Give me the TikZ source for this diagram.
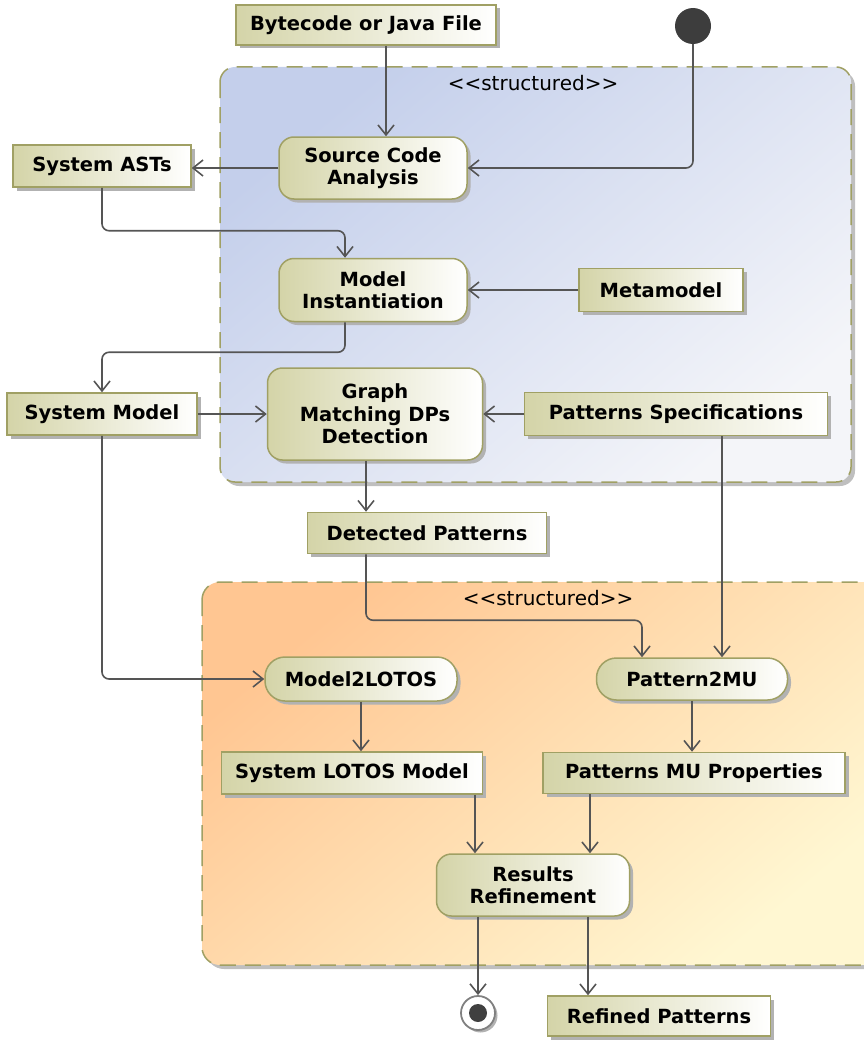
\documentclass[tikz,border=0pt]{standalone}
\usepackage{fontspec}
\setmainfont{DejaVu Sans}
\usepackage{xcolor}
\usetikzlibrary{positioning, arrows.meta, shadows}

\definecolor{nodeolive}{HTML}{D4D4A8}
\definecolor{edgeolive}{HTML}{A0A064}
\definecolor{flowgray}{HTML}{555555}
\definecolor{blueA}{HTML}{C4CFEB}
\definecolor{blueB}{HTML}{F4F5F9}
\definecolor{peachA}{HTML}{FFC692}
\definecolor{peachB}{HTML}{FFF7D2}

\begin{document}
\begin{tikzpicture}[
    x=1pt, y=-1pt,
    >={Straight Barb[length=10pt, width=16pt]},
    box/.style={draw=edgeolive, line width=1.5pt, left color=nodeolive, right color=white,
        font=\fontsize{19.5}{22.5}\selectfont\bfseries, align=center, inner sep=0pt,
        drop shadow={shadow xshift=3.5pt, shadow yshift=-3.5pt, fill=black!30, opacity=1}},
    objbox/.style={box, rectangle},
    actbox/.style={box, rounded corners=15pt},
    pillbox/.style={box, rounded corners=20pt},
    region/.style={draw=edgeolive, line width=1.5pt, dash pattern=on 16pt off 9pt,
        shading angle=40,
        drop shadow={shadow xshift=4pt, shadow yshift=-4pt, fill=black!25, opacity=1}},
    stereo/.style={font=\fontsize{20}{22}\selectfont},
    flow/.style={->, line width=1.6pt, flowgray, rounded corners=7pt},
]
\useasboundingbox (0,0) rectangle (864,1041);

% Regions
\path[region, left color=blueA, right color=blueB, shading angle=40, rounded corners=15pt]
    (220,67) rectangle (851,482);
\node[stereo] (upperlbl) at (533,83) {<{}<structured>{}>};
\path[region, left color=peachA, right color=peachB, shading angle=40, rounded corners=18pt]
    (202,582) rectangle (880,965);
\node[stereo] (lowerlbl) at (548,598) {<{}<structured>{}>};

% Start and end
\node[circle, fill=black!76, minimum size=36pt, inner sep=0pt] (init) at (693,26) {};
\node[circle, draw=black!50, line width=1.8pt, fill=white, minimum size=34pt, inner sep=0pt,
    drop shadow={shadow xshift=2.5pt, shadow yshift=-2.5pt, fill=black!30, opacity=1},
    path picture={\fill[black!75] (path picture bounding box.center) circle (9pt);}] (final) at (478,1013) {};

% Upper part
\node[objbox, minimum width=260pt, minimum height=40pt] (bytecode) at (366,25) {Bytecode or Java File};
\node[actbox, minimum width=188pt, minimum height=62pt] (sca) at (373,168) {Source Code\\Analysis};
\node[objbox, minimum width=178pt, minimum height=42pt] (asts) at (102,166) {System ASTs};
\node[actbox, minimum width=188pt, minimum height=63pt] (mi) at (373,290) {Model\\Instantiation};
\node[objbox, minimum width=164pt, minimum height=43pt] (meta) at (661,290) {Metamodel};
\node[objbox, minimum width=190pt, minimum height=42pt] (sysmodel) at (102,414) {System Model};
\node[actbox, minimum width=215pt, minimum height=92pt] (graph) at (375,414) {Graph\\Matching DPs\\Detection};
\node[objbox, minimum width=303pt, minimum height=43pt] (patspec) at (676,414) {Patterns Specifications};
\node[objbox, minimum width=239pt, minimum height=41pt] (detected) at (427,533) {Detected Patterns};

% Lower part
\node[pillbox, minimum width=192pt, minimum height=44pt] (m2l) at (361,679) {Model2LOTOS};
\node[pillbox, minimum width=191pt, minimum height=42pt] (p2mu) at (692,679) {Pattern2MU};
\node[objbox, minimum width=261pt, minimum height=42pt] (slm) at (352,773) {System LOTOS Model};
\node[objbox, minimum width=302pt, minimum height=41pt] (pmu) at (694,773) {Patterns MU Properties};
\node[actbox, minimum width=193pt, minimum height=62pt] (rr) at (533,885) {Results\\Refinement};
\node[objbox, minimum width=223pt, minimum height=40pt] (refined) at (659,1016) {Refined Patterns};

% Arrows
\draw[flow] ([xshift=20pt]bytecode.south) -- ([xshift=20pt]bytecode.south |- sca.north);
\draw[flow] (init.south) |- (sca.east);
\draw[flow] (sca.west) -- (sca.west -| asts.east);
\draw[flow] (asts.south) -- ++(0,43) -| ([xshift=-28pt]mi.north);
\draw[flow] (meta) -- (mi);
\draw[flow] ([xshift=-28pt]mi.south) -- ++(0,30) -| (sysmodel.north);
\draw[flow] (sysmodel) -- (graph);
\draw[flow] (patspec) -- (graph);
\draw[flow] ([xshift=-9pt]graph.south) -- ([xshift=-9pt]graph.south |- detected.north);
\draw[flow] ([xshift=-61pt]detected.south) -- ++(0,66) -| ([xshift=-50pt]p2mu.north);
\draw[flow] ([xshift=46pt]patspec.south) -- ([xshift=46pt]patspec.south |- p2mu.north);
\draw[flow] (sysmodel.south) |- (m2l.west);
\draw[flow] (m2l) -- (m2l |- slm.north);
\draw[flow] (p2mu) -- (p2mu |- pmu.north);
\draw[flow] ([xshift=123pt]slm.south) -- ([xshift=123pt]slm.south |- rr.north);
\draw[flow] ([xshift=-104pt]pmu.south) -- ([xshift=-104pt]pmu.south |- rr.north);
\draw[flow] ([xshift=-55pt]rr.south) -- (final);
\draw[flow] ([xshift=55pt]rr.south) -- ([xshift=55pt]rr.south |- refined.north);

\end{tikzpicture}
\end{document}
